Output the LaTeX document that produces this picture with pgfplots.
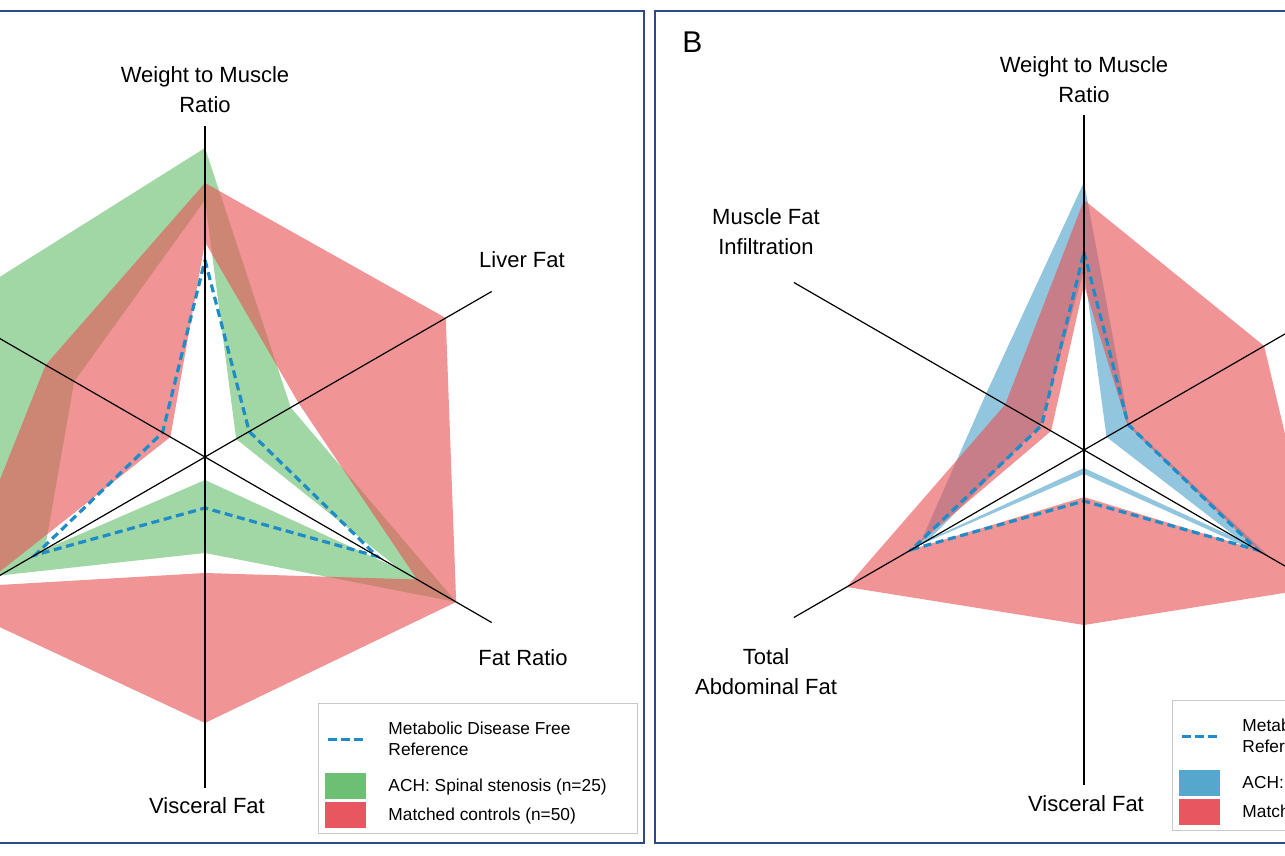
\documentclass[border=0pt]{standalone}
\usepackage{pgfplots}
\pgfplotsset{compat=1.18}
\usepackage{fontspec}
\setmainfont{Liberation Sans}
\definecolor{grn}{RGB}{109,191,115}
\definecolor{rd}{RGB}{231,88,90}
\definecolor{rdl}{RGB}{232,86,95}
\definecolor{blu}{RGB}{86,167,206}
\definecolor{refc}{RGB}{30,140,200}
\definecolor{framec}{RGB}{47,72,135}
\definecolor{legb}{RGB}{200,200,200}
\pgfplotsset{
  radarpanel/.style={
    x=0.75pt, y=0.75pt,
    xmin=-429, xmax=439,
    axis lines=box, xtick=\empty, ytick=\empty,
    axis line style={draw=framec, line width=1.5pt},
    clip=false,
    anchor=south west,
    legend style={anchor=north west, draw=legb, line width=0.75pt,
       inner xsep=5.25pt, inner ysep=4pt, row sep=2.25pt, column sep=16.5pt,
       font=\fontsize{13}{15.75}\selectfont,
       cells={anchor=west, align=left}, nodes={inner sep=0pt}},
  },
  band/.style={draw=none, fill=#1, fill opacity=0.645, forget plot, data cs=polar},
  refline/.style={refc, line width=2.4pt, dash pattern=on 6pt off 3.5pt, forget plot, data cs=polar},
  spoke/.style={black, line width=0.9pt, forget plot, data cs=polar},
  refleg/.style={legend image code/.code={\path[draw=none,fill=none] (0pt,-23pt) rectangle (30.75pt,23pt); \draw[draw=refc, line width=2.6pt, dash pattern=on 6.5pt off 3.2pt] (2.25pt,0pt) -- (28.5pt,0pt);}},
  patchleg/.style={legend image code/.code={\fill[fill=#1, draw=none] (0pt,-9.75pt) rectangle (30.75pt,9.75pt);}},
}
\tikzset{lab/.style={font=\fontsize{16.5}{22.5}\selectfont, align=center, inner sep=0pt}}
\begin{document}
\begin{tikzpicture}
\path[use as bounding box] (0pt,0pt) rectangle (963.75pt,642pt);
\clip (0pt,0pt) rectangle (963.75pt,642pt);
% ---------------- Panel A ----------------
\begin{axis}[radarpanel, at={(-168pt,9.75pt)}, ymin=-386, ymax=446,
  legend style={at={(0.6244,0.1683)}}]
% ACH: spinal stenosis (outer ring, then inner ring); angle, radius
\addplot[band=grn] coordinates {(90,309) (30,99) (-30,290) (-90,96) (-150,237) (150,296) (90,309)
  (90,257) (150,151) (-150,185) (-90,23) (-30,225) (30,36) (90,257)};
% Matched controls
\addplot[band=rd] coordinates {(90,274) (30,278) (-30,290) (-90,266) (-150,294) (150,184) (90,274)
  (90,215) (150,40) (-150,258) (-90,116) (-30,245) (30,108) (90,215)};
% Metabolic disease free reference
\addplot[refline] coordinates {(90,197) (30,51) (-30,199) (-90,51) (-150,196) (150,49) (90,197)};
% spokes
\addplot[spoke] coordinates {(90,331) (270,331)};
\addplot[spoke] coordinates {(30,331) (210,331)};
\addplot[spoke] coordinates {(-30,331) (150,331)};
\node[lab, anchor=south] at (axis cs:0,344) {Weight to Muscle\\Ratio};
\node[lab, anchor=base] at (axis cs:317,189) {Liver Fat};
\node[lab, anchor=base] at (axis cs:318,-209) {Fat Ratio};
\node[lab, anchor=base] at (axis cs:2,-357) {Visceral Fat};
\addlegendimage{refleg}
\addlegendentry{Metabolic Disease Free\\Reference}
\addlegendimage{patchleg=grn}
\addlegendentry{ACH: Spinal stenosis (n=25)\rule{18pt}{0pt}}
\addlegendimage{patchleg=rdl}
\addlegendentry{Matched controls (n=50)}
\end{axis}
% ---------------- Panel B ----------------
\begin{axis}[radarpanel, at={(491.25pt,9.75pt)}, ymin=-393, ymax=439,
  legend style={at={(0.5956,0.1719)}}]
\addplot[band=blu] coordinates {(90,268) (30,52) (-30,215) (-90,24) (-150,190) (150,113) (90,268)
  (90,180) (150,50) (-150,178) (-90,18) (-30,180) (30,26) (90,180)};
\addplot[band=rd] coordinates {(90,250) (30,208) (-30,274) (-90,175) (-150,274) (150,91) (90,250)
  (90,165) (150,38) (-150,199) (-90,47) (-30,200) (30,50) (90,165)};
\addplot[refline] coordinates {(90,198) (30,51) (-30,200) (-90,51) (-150,199) (150,49) (90,198)};
\addplot[spoke] coordinates {(90,335) (270,335)};
\addplot[spoke] coordinates {(30,335) (210,335)};
\addplot[spoke] coordinates {(-30,335) (150,335)};
\node[font=\fontsize{22.5}{27}\selectfont, anchor=base west, inner sep=0pt] at (axis cs:-402,397) {B};
\node[lab, anchor=south] at (axis cs:0,347) {Weight to Muscle\\Ratio};
\node[lab, anchor=south] at (axis cs:-318,195) {Muscle Fat\\Infiltration};
\node[lab, anchor=south] at (axis cs:-318,-245) {Total\\Abdominal Fat};
\node[lab, anchor=base] at (axis cs:2,-362) {Visceral Fat};
\addlegendimage{refleg}
\addlegendentry{Metabolic Disease Free\\Reference}
\addlegendimage{patchleg=blu}
\addlegendentry{ACH: No spinal stenosis (n=23)}
\addlegendimage{patchleg=rdl}
\addlegendentry{Matched controls (n=46)}
\end{axis}
\end{tikzpicture}
\end{document}
